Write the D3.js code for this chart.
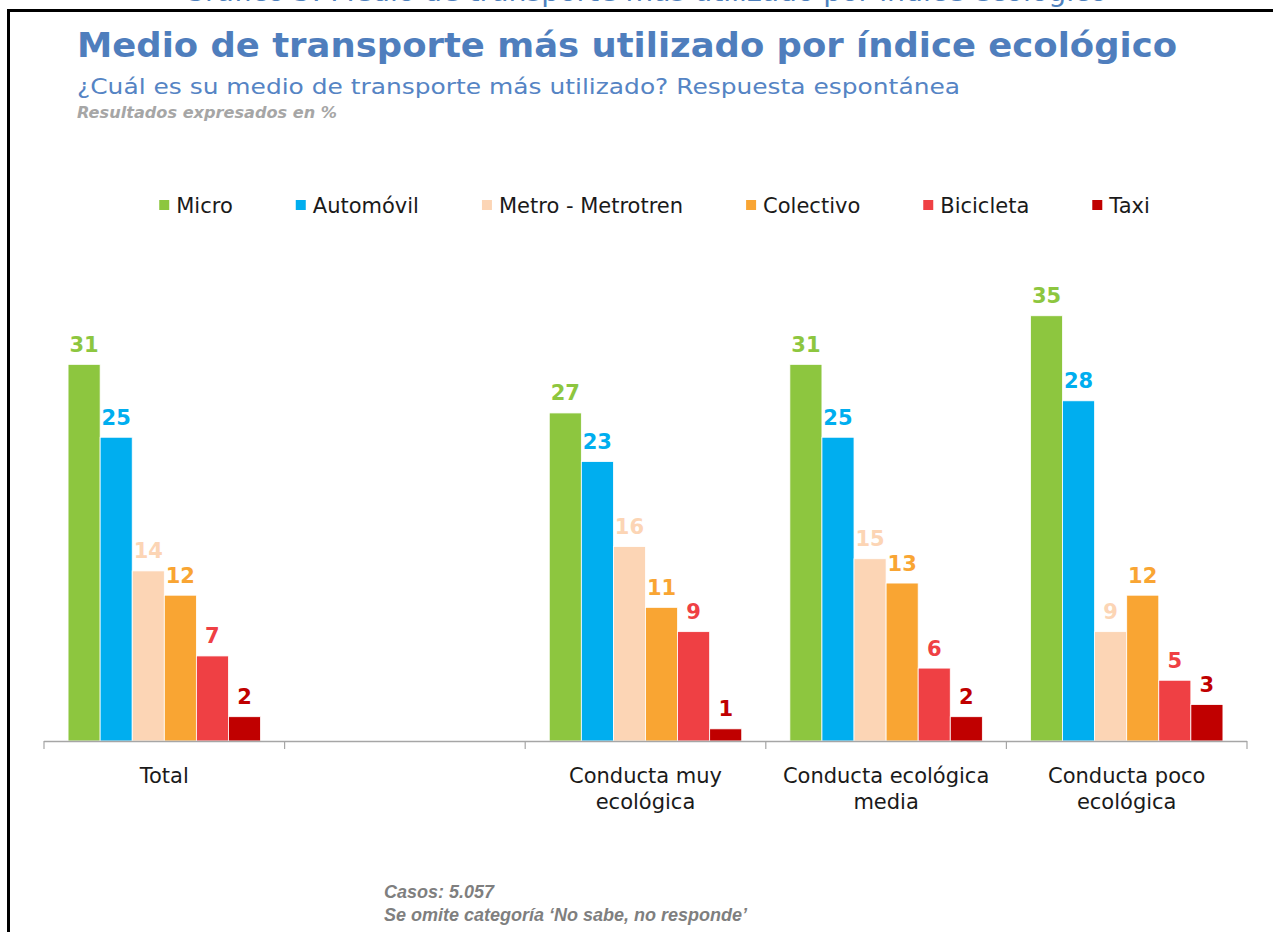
<!DOCTYPE html>
<html>
<head>
<meta charset="utf-8">
<script src="https://cdn.jsdelivr.net/npm/d3@7"></script>
<style>
  html, body { margin: 0; padding: 0; background: #fff; }
  svg { display: block; }
</style>
</head>
<body>
<svg id="chart" width="1273" height="932"></svg>
<script>
// Groups along the category axis (the second slot is an empty spacer)
const categories = ["Total", "", "Conducta muy\necológica", "Conducta ecológica\nmedia", "Conducta poco\necológica"];
// Transport modes (series)
const series = ["Micro", "Automóvil", "Metro - Metrotren", "Colectivo", "Bicicleta", "Taxi"];
const seriesColors = ["#8DC63F", "#00AEEF", "#FCD5B5", "#F9A533", "#EF4044", "#C00000"];
// Percentages per series, one value per category (null = no bar)
const micro      = [31, null, 27, 31, 35];
const automovil  = [25, null, 23, 25, 28];
const metro      = [14, null, 16, 15, 9];
const colectivo  = [12, null, 11, 13, 12];
const bicicleta  = [7,  null, 9,  6,  5];
const taxi       = [2,  null, 1,  2,  3];
const seriesValues = [micro, automovil, metro, colectivo, bicicleta, taxi];

const titleText = "Medio de transporte más utilizado por índice ecológico";
const subtitleText = "¿Cuál es su medio de transporte más utilizado? Respuesta espontánea";
const unitText = "Resultados expresados en %";
const headerText = "Gráfico 5: Medio de transporte más utilizado por índice ecológico";
const notes = ["Casos: 5.057", "Se omite categoría ‘No sabe, no responde’"];

const svg = d3.select("#chart");
const blue = "#4F7EBD";

// Caption running above the frame (clipped by the top edge)
svg.append("text")
  .attr("x", 183).attr("y", 1)
  .attr("textLength", 924).attr("lengthAdjust", "spacingAndGlyphs")
  .style("font-family", "DejaVu Sans").style("font-size", "26px")
  .style("fill", "#4F81BD")
  .text(headerText);

// Frame
svg.append("path")
  .attr("d", "M8.5,940 V10.5 H1280")
  .attr("fill", "none").attr("stroke", "#000").attr("stroke-width", 3);

// Titles
svg.append("text")
  .attr("x", 77).attr("y", 57)
  .attr("textLength", 1100).attr("lengthAdjust", "spacingAndGlyphs")
  .style("font-family", "DejaVu Sans").style("font-weight", "bold")
  .style("font-size", "33px").style("fill", blue)
  .text(titleText);

svg.append("text")
  .attr("x", 77).attr("y", 94)
  .attr("textLength", 883).attr("lengthAdjust", "spacingAndGlyphs")
  .style("font-family", "DejaVu Sans").style("font-size", "22px")
  .style("fill", "#5584C4")
  .text(subtitleText);

svg.append("text")
  .attr("x", 77).attr("y", 118)
  .attr("textLength", 260).attr("lengthAdjust", "spacingAndGlyphs")
  .style("font-family", "DejaVu Sans").style("font-weight", "bold").style("font-style", "italic")
  .style("font-size", "15px").style("fill", "#A6A6A6")
  .text(unitText);

// Legend: square + label, laid out left to right and centred
const legendY = 205;
const legendGap = 63;
const legend = svg.append("g");
const items = legend.selectAll("g").data(series).join("g");
items.append("text")
  .attr("y", legendY + 7.5)
  .style("font-family", "DejaVu Sans").style("font-size", "21px")
  .style("fill", "#1a1a1a")
  .text(d => d);
let cursor = 0;
items.each(function(d, i) {
  const g = d3.select(this);
  const w = g.select("text").node().getComputedTextLength();
  g.append("rect")
    .attr("x", 0).attr("y", legendY - 5)
    .attr("width", 10).attr("height", 10)
    .attr("fill", seriesColors[i]);
  g.select("text").attr("x", 17);
  g.attr("transform", `translate(${cursor},0)`);
  cursor += 17 + w + legendGap;
});
const legendWidth = cursor - legendGap;
legend.attr("transform", `translate(${654.5 - legendWidth / 2},0)`);

// Scales
const x = d3.scaleBand().domain(categories).range([44, 1247]).padding(0);
const xs = d3.scaleBand().domain(series).range([0, x.bandwidth()]).paddingInner(0).paddingOuter(0.75);
const y = d3.scaleLinear().domain([0, 40]).range([741, 255]);

// Bars and value labels
const barData = [];
categories.forEach((c, ci) => {
  series.forEach((s, si) => {
    const v = seriesValues[si][ci];
    if (v != null) barData.push({ c, s, si, v });
  });
});

const plot = svg.append("g");
plot.selectAll("rect.bar").data(barData).join("rect")
  .attr("class", "bar")
  .attr("x", d => x(d.c) + xs(d.s))
  .attr("y", d => y(d.v))
  .attr("width", xs.bandwidth())
  .attr("height", d => y(0) - y(d.v))
  .attr("fill", d => seriesColors[d.si])
  .attr("stroke", "#fff").attr("stroke-width", 0.8);

plot.selectAll("text.val").data(barData).join("text")
  .attr("class", "val")
  .attr("x", d => x(d.c) + xs(d.s) + xs.bandwidth() / 2)
  .attr("y", d => y(d.v) - 12.5)
  .attr("text-anchor", "middle")
  .style("font-family", "DejaVu Sans").style("font-weight", "bold")
  .style("font-size", "21px")
  .style("fill", d => seriesColors[d.si])
  .text(d => d.v);

// Category axis with ticks on band boundaries
const axisG = svg.append("g");
axisG.append("line")
  .attr("x1", x.range()[0]).attr("x2", x.range()[1])
  .attr("y1", y(0) + 0.5).attr("y2", y(0) + 0.5)
  .attr("stroke", "#A6A6A6").attr("stroke-width", 1.5);
const boundaries = categories.map(c => x(c)).concat([x.range()[1]]);
axisG.selectAll("line.tick").data(boundaries).join("line")
  .attr("class", "tick")
  .attr("x1", d => d).attr("x2", d => d)
  .attr("y1", y(0)).attr("y2", y(0) + 8)
  .attr("stroke", "#A6A6A6").attr("stroke-width", 1.2);

axisG.selectAll("text.cat").data(categories).join("text")
  .attr("class", "cat")
  .attr("text-anchor", "middle")
  .style("font-family", "DejaVu Sans").style("font-size", "21px")
  .style("fill", "#1a1a1a")
  .each(function(c) {
    const t = d3.select(this);
    c.split("\n").forEach((line, li) => {
      t.append("tspan")
        .attr("x", x(c) + x.bandwidth() / 2)
        .attr("y", 783 + li * 25.5)
        .text(line);
    });
  });

// Footnotes
svg.selectAll("text.note").data(notes).join("text")
  .attr("class", "note")
  .attr("x", 384)
  .attr("y", (d, i) => 898 + i * 23)
  .style("font-family", "Liberation Sans").style("font-weight", "bold").style("font-style", "italic")
  .style("font-size", "18px").style("fill", "#7F7F7F")
  .text(d => d);
</script>
</body>
</html>
